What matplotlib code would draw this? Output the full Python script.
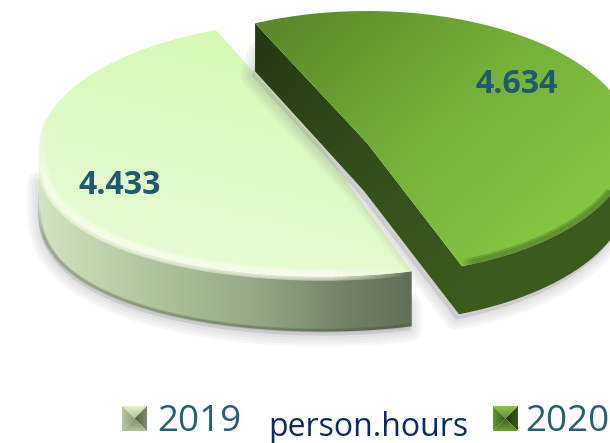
import numpy as np
import matplotlib
matplotlib.use('Agg')
import matplotlib.pyplot as plt
from matplotlib.path import Path
from matplotlib.patches import Polygon
from matplotlib.collections import LineCollection

years = ['2019', '2020']
values = [4433, 4634]
unit_label = 'person.hours'

W, H = 610, 443
label_color = '#1f5a73'
legend_color = '#24626f'
unit_color = '#0c2a66'

sweeps = [360 * v / sum(values) for v in values]

fig = plt.figure(figsize=(W / 100, H / 100), dpi=100)
ax = fig.add_axes([0, 0, 1, 1])
X, Y = np.meshgrid(np.arange(W) + .5, np.arange(H) + .5)


def arc(g, t0, t1, dx=0, dy=0, shrink=0):
    t = np.radians(np.linspace(t0, t1, 240))
    s = np.sin(t)
    # lower half of the disc bulges a little (perspective in the original)
    s = np.where(s < 0, -np.abs(s) ** g.get('p', 1), s)
    return np.column_stack([g['cx'] + dx + (g['a'] - shrink) * np.cos(t),
                            g['cy'] + dy - (g['b'] - shrink) * s])


def gradient(p0, p1, stops):
    # colour ramp between two points in pixel coords
    p0, p1 = np.array(p0, float), np.array(p1, float)
    d = p1 - p0
    u = ((X - p0[0]) * d[0] + (Y - p0[1]) * d[1]) / (d @ d)
    pos = [s[0] for s in stops]
    img = np.dstack([np.interp(u, pos, [s[1][c] / 255 for s in stops]) for c in range(3)])
    return img


def fill_gradient(xy, p0, p1, stops, z):
    im = ax.imshow(gradient(p0, p1, stops), extent=(0, W, H, 0), aspect='auto', zorder=z)
    im.set_clip_path(Path(np.vstack([xy, xy[:1]])), ax.transData)


def shadow(xy, off, z):
    pts = xy + np.array(off)
    for lw in [16, 12, 8, 4]:
        ax.add_patch(Polygon(pts, closed=True, fc='#808080', ec='#808080', lw=lw, alpha=.06,
                             joinstyle='round', zorder=z))


def soft_arc(xy, color, widths, alpha, fade, z):
    # stroke along an arc with its alpha fading towards the ends
    segs = np.stack([xy[:-1], xy[1:]], axis=1)
    s = np.linspace(0, 1, len(segs))
    env = np.clip(np.minimum(s / fade[0], (1 - s) / fade[1]), 0, 1)
    rgba = np.tile(matplotlib.colors.to_rgba(color), (len(segs), 1))
    rgba[:, 3] = env * alpha
    for w in widths:
        ax.add_collection(LineCollection(segs, colors=rgba, linewidths=w, capstyle='butt', zorder=z))


# --- 2019 slice
light = dict(cx=323, cy=148.5, a=284, b=128, p=.8)
t0 = 112.2
t1 = t0 + sweeps[0]
depth = 55
top_arc = arc(light, t0, t1)
apex = np.array([[light['cx'], light['cy']]])
light_top = np.vstack([apex, top_arc])
front = arc(light, 180, t1)
light_body = np.vstack([front, arc(light, t1, 180, dy=depth)])
shadow(np.vstack([arc(light, 180, t1, dy=30), arc(light, t1, 180, dy=depth)]), (-1, 4), 1)
fill_gradient(light_body, (40, 0), (412, 0),
              [(0, (212, 228, 192)), (.3, (176, 196, 158)), (.6, (148, 166, 134)),
               (.8, (118, 132, 106)), (1, (98, 110, 88))], 2)
soft_arc(arc(light, 180, t1, dy=depth - 1), '#3c4a34', [3, 1.5], .2, (.1, .02), 3)
fill_gradient(light_top, (300, 30), (240, 280),
              [(0, (212, 249, 178)), (.55, (222, 250, 196)), (1, (232, 252, 214))], 4)
soft_arc(arc(light, 168, t1, shrink=2), '#fffff4', [9, 7, 5, 3], .28, (.2, .14), 5)
soft_arc(arc(light, 172, t1, dy=2), '#fffff4', [3], .3, (.2, .14), 5)

# --- 2020 slice
green = dict(cx=367, cy=143, a=265, b=132)
t2 = -69
t3 = t2 + sweeps[1]
gdepth = 48
top2 = arc(green, t2, t3)
apex2 = np.array([[green['cx'], green['cy']]])
green_top = np.vstack([apex2, top2])
tip_pt = top2[-1]
offs = np.array([-3, gdepth])
low_edge = np.vstack([tip_pt + np.array([0, gdepth]), apex2 + offs, arc(green, t2, 0, dx=-3, dy=gdepth)])
green_wall = np.vstack([tip_pt, low_edge, arc(green, 0, t2), apex2])
shadow(np.vstack([low_edge, low_edge[::-1] + np.array([6, -24])]), (-3, 5), 6)
fill_gradient(green_wall, (255, 40), (460, 300),
              [(0, (38, 58, 18)), (.5, (52, 78, 26)), (1, (60, 90, 28))], 7)
fill_gradient(green_top, (300, 10), (520, 260),
              [(0, (92, 138, 42)), (.5, (116, 176, 56)), (1, (132, 198, 66))], 8)
soft_arc(arc(green, t2, 0, shrink=2), '#3c5a1e', [7, 4], .28, (.04, .02), 9)

# --- labels
label_pos = [(120, 186), (517, 84)]
for v, (lx, ly) in zip(values, label_pos):
    ax.text(lx, ly, f'{v:,}'.replace(',', '.'), color=label_color, fontsize=23, fontweight='bold',
            family='Open Sans', ha='center', va='center', zorder=12)

# --- legend
swatch_x = [122, 493]
# top, right, bottom, left faces: outer colour, colour at the centre
swatch_cols = [[('#e4f4c8', '#b0c490'), ('#7f8d6c', '#545f46'), ('#b4c0a0', '#7f8c6a'), ('#b8c8a0', '#8a9a72')],
               [('#8cc648', '#5e9030'), ('#3a5a1a', '#22340e'), ('#6da034', '#3f6218'), ('#669a30', '#3a5c18')]]
text_x = [157, 525]
size = 25
sy = 406


def rgb(c):
    return tuple(255 * v for v in matplotlib.colors.to_rgb(c))


for sx, cols, tx, yr in zip(swatch_x, swatch_cols, text_x, years):
    c = np.array((sx + size / 2, sy + size / 2))
    corners = np.array([(sx, sy), (sx + size, sy), (sx + size, sy + size), (sx, sy + size)], float)
    for i, (outer, inner) in enumerate(cols):
        a, b = corners[i], corners[(i + 1) % 4]
        fill_gradient(np.array([a, b, c]), (a + b) / 2, c, [(0, rgb(outer)), (1, rgb(inner))], 10)
    ax.text(tx, 431, yr, color=legend_color, fontsize=26.5, family='Open Sans', ha='left',
            va='baseline', zorder=12)
ax.text(268, 436, unit_label, color=unit_color, fontsize=23, family='Open Sans', ha='left',
        va='baseline', zorder=12)

ax.set_xlim(0, W)
ax.set_ylim(H, 0)
ax.axis('off')
fig.savefig('out.png', dpi=100, facecolor='white')
